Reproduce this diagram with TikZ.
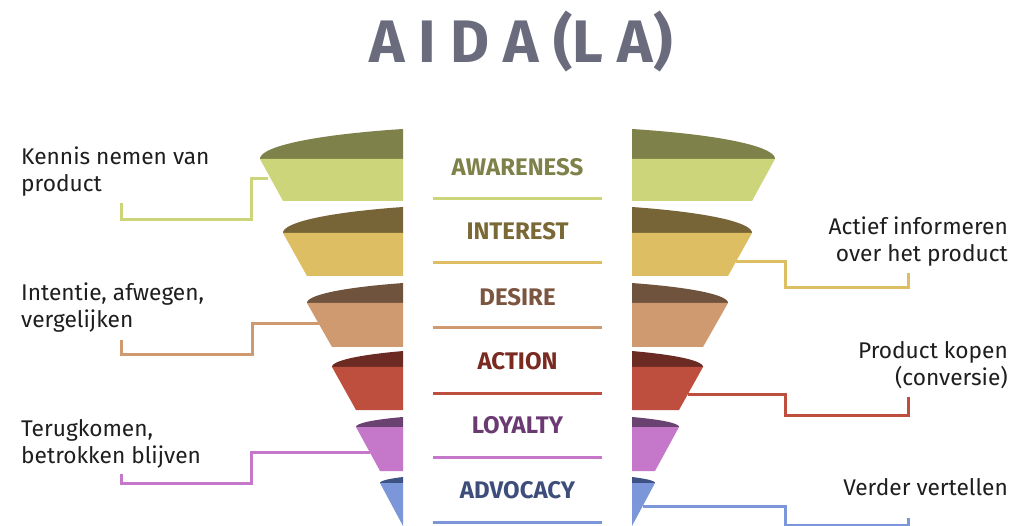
\documentclass[tikz,border=0pt]{standalone}
\usepackage{fontspec}
\setmainfont{Fira Sans}
\definecolor{t1d}{HTML}{7E8149}\definecolor{t1l}{HTML}{CDD57A}\definecolor{t1t}{HTML}{7E8149}
\definecolor{t2d}{HTML}{776538}\definecolor{t2l}{HTML}{DDBE62}\definecolor{t2t}{HTML}{7A6835}
\definecolor{t3d}{HTML}{6F533D}\definecolor{t3l}{HTML}{D09A70}\definecolor{t3t}{HTML}{7B5540}
\definecolor{t4d}{HTML}{6B2A22}\definecolor{t4l}{HTML}{BE4F3E}\definecolor{t4t}{HTML}{7A2A20}
\definecolor{t5d}{HTML}{6A4272}\definecolor{t5l}{HTML}{C577C9}\definecolor{t5t}{HTML}{6B3A72}
\definecolor{t6d}{HTML}{3E5384}\definecolor{t6l}{HTML}{7C97D9}\definecolor{t6t}{HTML}{3D4E7A}
\definecolor{titlegray}{HTML}{6B6B7E}
\definecolor{lbltext}{HTML}{1E1E1E}
\newcommand\funneltier[7]{%
  \fill[#6] plot[domain=180:0,samples=90] ({517.5+(517.5-#3)*cos(\x)},{#1-#5*sin(\x)}) -- cycle;
  \fill[#7] (#3,#1) -- ({1035-#3},#1) -- ({1035-#4},#2) -- (#4,#2) -- cycle;
}
\begin{document}
\begin{tikzpicture}[x=1pt,y=-1pt,
  stage/.style={font=\fontsize{24}{26}\selectfont\bfseries, inner sep=0pt, anchor=center},
  sepline/.style={line width=3pt},
  conn/.style={line width=3pt},
  lbl/.style={font=\fontsize{22.7}{27}\selectfont, text=lbltext, inner sep=0pt}]
\fill[white] (0,0) rectangle (1033,526);
\path[use as bounding box] (0,0) rectangle (1033,526);

% title
\node[font=\fontsize{60}{62}\selectfont\bfseries, text=titlegray, inner sep=0pt, anchor=base] (title) at (521,63) {A I D A (L A)};

% connector end points
\coordinate (s1) at (268,179); \coordinate (e1) at (121,203);
\coordinate (s3) at (319,324); \coordinate (e3) at (121,340);
\coordinate (s5) at (370,452); \coordinate (e5) at (121,474);
\coordinate (s2) at (736,262); \coordinate (e2) at (908,273);
\coordinate (s4) at (688,394); \coordinate (e4) at (908,397);
\coordinate (s6) at (643,506); \coordinate (e6) at (908,518);

% connectors
\draw[conn,t1l] (s1) -- (251,179) -- (251,220) -- (121,220) -- (e1);
\draw[conn,t3l] (s3) -- (252,324) -- (252,355) -- (121,355) -- (e3);
\draw[conn,t5l] (s5) -- (251,452) -- (251,483) -- (121,483) -- (e5);
\draw[conn,t2l] (s2) -- (785,262) -- (785,288) -- (908,288) -- (e2);
\draw[conn,t4l] (s4) -- (785,394) -- (785,415) -- (908,415) -- (e4);
\draw[conn,t6l] (s6) -- (785,506) -- (785,525) -- (908,525) -- (e6);

% funnel halves
\begin{scope}
\clip (0,0) rectangle (403,526) (632,0) rectangle (1033,526);
\funneltier{159}{201}{260}{283}{33.5}{t1d}{t1l}
\funneltier{233}{276}{283}{307}{29.8}{t2d}{t2l}
\funneltier{303}{347}{307}{332}{23.8}{t3d}{t3l}
\funneltier{367}{410}{332}{356}{20.3}{t4d}{t4l}
\funneltier{427}{471}{356}{380}{14.2}{t5d}{t5l}
\funneltier{483}{526}{380}{403}{10.8}{t6d}{t6l}
\end{scope}

% stage labels and separators
\node[stage,text=t1t] (aw) at (517.5,167) {AWARENESS};
\node[stage,text=t2t] (in) at (517.5,231) {INTEREST};
\node[stage,text=t3t] (de) at (517.5,297) {DESIRE};
\node[stage,text=t4t] (ac) at (517.5,361) {ACTION};
\node[stage,text=t5t] (lo) at (517.5,425) {LOYALTY};
\node[stage,text=t6t] (ad) at (517.5,490) {ADVOCACY};
\draw[sepline,t1l] (433,199) -- (602,199);
\draw[sepline,t2l] (433,263) -- (602,263);
\draw[sepline,t3l] (433,328) -- (602,328);
\draw[sepline,t4l] (433,393) -- (602,393);
\draw[sepline,t5l] (433,457) -- (602,457);
\draw[sepline,t6l] (433,522) -- (602,522);

% side labels (base anchor = baseline of last line)
\node[lbl,anchor=base west,align=left] (l1) at (21,192) {Kennis nemen van\\product};
\node[lbl,anchor=base west,align=left] (l3) at (21,328) {Intentie, afwegen,\\vergelijken};
\node[lbl,anchor=base west,align=left] (l5) at (21,463) {Terugkomen,\\betrokken blijven};
\node[lbl,anchor=base east,align=right] (r2) at (1008,262) {Actief informeren\\over het product};
\node[lbl,anchor=base east,align=right] (r4) at (1008,385) {Product kopen\\(conversie)};
\node[lbl,anchor=base east,align=right] (r6) at (1008,495) {Verder vertellen};
\end{tikzpicture}
\end{document}
